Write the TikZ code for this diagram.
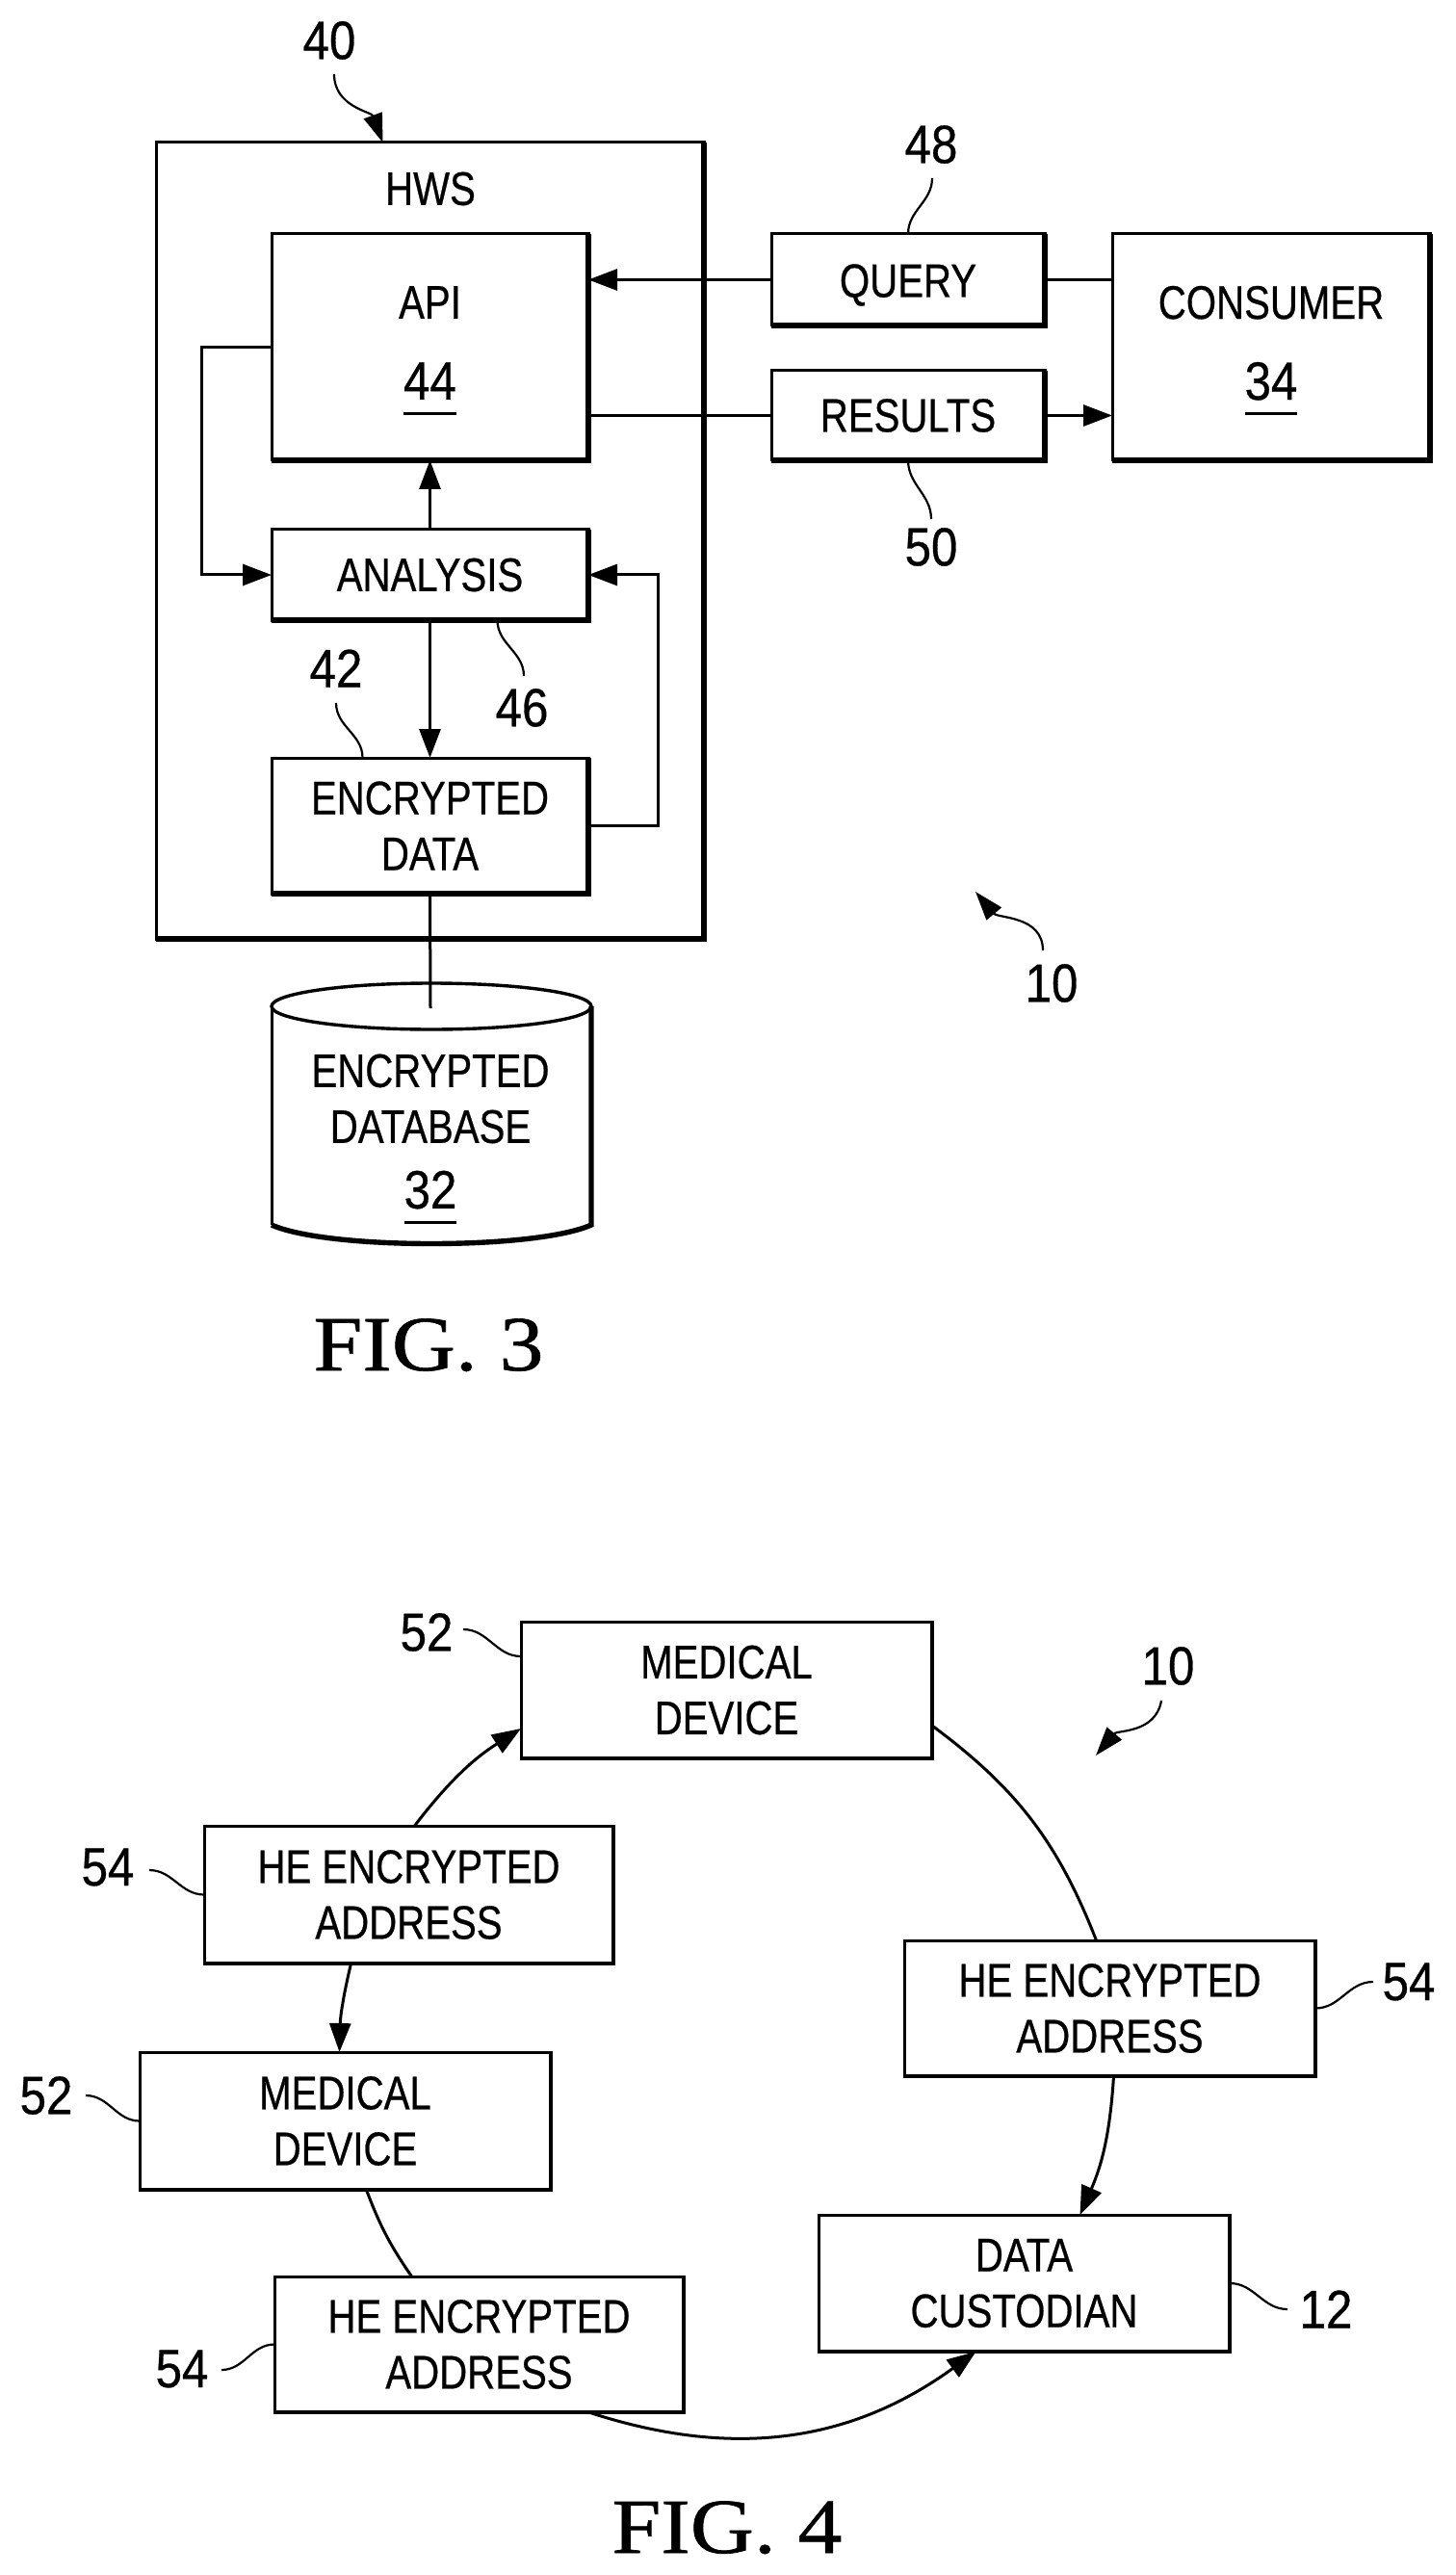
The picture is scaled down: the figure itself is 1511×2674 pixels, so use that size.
\documentclass[tikz,border=0pt]{standalone}
\usepackage{fontspec}
\usetikzlibrary{arrows.meta}
\setmainfont[FakeStretch=0.82,FakeBold=0.5]{Liberation Sans}
\newfontfamily\numf[FakeStretch=0.88,FakeBold=0.5]{Liberation Sans}
\newfontfamily\figf[FakeStretch=1.13,FakeBold=0.8]{Liberation Serif}
\newcommand\txtsize{\fontsize{24.5}{29}\selectfont}
\newcommand\numsize{\numf\fontsize{28}{32}\selectfont}
% underlined reference numeral: rule 8pt under the baseline, #2 = reserved depth
\newcommand\ulnum[2]{{\numsize\setbox0\hbox{#1}\rlap{\smash{\rule[-8pt]{\wd0}{1.5pt}}}\box0\rule[-#2]{0pt}{#2}}}
\newcommand\bx[6]{\node[pbox,minimum width={(#4-#2)*0.5pt},minimum height={(#5-#3)*0.5pt}] (#1) at ({(#2+#4)/2},{(#3+#5)/2}) {#6};}
\tikzset{
  pbox/.style={draw=black,line width=1.5pt,fill=none,inner sep=0pt,outer sep=0pt,align=center,font=\txtsize},
  txt/.style={inner sep=0pt,outer sep=0pt,align=center,font=\txtsize},
  num/.style={inner sep=0pt,outer sep=0pt,font=\numsize},
  figl/.style={inner sep=0pt,outer sep=0pt,anchor=base,font=\figf\fontsize{40.5}{44}\selectfont},
  heavy/.style={line width=2.7pt,line cap=square},
  conn/.style={line width=1.5pt},
  arr/.style={line width=1.5pt,-{Triangle[length=15pt,width=11pt]}},
  lead/.style={line width=1.1pt},
  leadarr/.style={line width=1.1pt,-{Triangle[length=15pt,width=10pt]}}
}
\begin{document}
\begin{tikzpicture}[x=0.5pt,y=-0.5pt]
\useasboundingbox (0,0) rectangle (1511,2674);
% FIG. 3 boxes
\bx{outer}{162}{148}{731}{975}{}
\bx{api}{282}{243}{611}{478}{API\\[13pt]\ulnum{44}{4.5pt}}
\bx{query}{801}{243}{1085}{338}{\raisebox{0pt}[18pt][0pt]{QUERY}}
\bx{results}{801}{385}{1085}{478}{RESULTS}
\bx{consumer}{1155}{243}{1485}{478}{CONSUMER\\[13pt]\ulnum{34}{4.5pt}}
\bx{analysis}{282}{550}{611}{644}{ANALYSIS}
\bx{enc}{282}{787}{611}{928}{ENCRYPTED\\DATA}
\foreach \n in {outer,api,query,results,consumer,analysis,enc}
  \draw[heavy] (\n.north east)--(\n.south east)--(\n.south west);
\node[txt] (hws) at (447,196) {HWS};
% cylinder
\draw[line width=1.7pt] (448,1045) ellipse [x radius=83pt,y radius=12pt];
\draw[line width=1.5pt] (282,1045)--(282,1272);
\draw[heavy] (614,1045)--(614,1272) .. controls (556,1298) and (340,1298) .. (282,1272);
\node[txt] (db) at (447,1175) {ENCRYPTED\\[0pt]DATABASE\\[5pt]\ulnum{32}{0pt}};
\coordinate (dbtop) at (447,1047);
% FIG. 3 connectors
\coordinate (loopl) at (209,0);
\coordinate (loopr) at (683,0);
\draw[arr] (query.west) -- (query.west -| api.east);
\draw[conn] (query.east) -- (query.east -| consumer.west);
\draw[conn] (results.west) -- (results.west -| api.east);
\draw[arr] (results.east) -- (results.east -| consumer.west);
\draw[arr] (analysis.north) -- (api.south);
\draw[arr] (analysis.south) -- (enc.north);
\draw[arr] (api.west) -- (api.west -| loopl) -- (analysis.west -| loopl) -- (analysis.west);
\draw[arr] (enc.east) -- (enc.east -| loopr) -- (analysis.east -| loopr) -- (analysis.east);
\draw[conn] (enc.south) -- (dbtop);
% FIG. 3 labels
\node[num] (n40) at (342,42) {40};
\node[num] (n48) at (967,150) {48};
\node[num] (n50) at (967,568) {50};
\node[num] (n46) at (542,735) {46};
\node[num] (n42) at (349,694) {42};
\node[num] (n10a) at (1092,1021) {10};
\coordinate (s40) at (347,77);
\coordinate (s48) at (968,185);
\coordinate (s50) at (967,539);
\coordinate (s46) at (544,702);
\coordinate (s42) at (349,730);
\coordinate (s10a) at (1083,987);
\coordinate (t10a) at (1013,926);
\draw[leadarr] (s40) to[out=-90,in=110] ([xshift=-24.5pt]outer.north);
\draw[lead] (s48) to[out=-90,in=90] (query.north);
\draw[lead] (s50) to[out=90,in=-90] (results.south);
\draw[lead] (s46) to[out=90,in=-90] ([xshift=35pt]analysis.south);
\draw[lead] (s42) to[out=-90,in=90] ([xshift=-35pt]enc.north);
\draw[leadarr] (s10a) to[out=90,in=-50] (t10a);
\node[figl] (fig3) at (445,1423) {FIG. 3};
% FIG. 4 boxes
\bx{med}{541}{1684}{968}{1826}{MEDICAL\\DEVICE}
\bx{heone}{212}{1896}{637}{2039}{HE ENCRYPTED\\ADDRESS}
\bx{medtwo}{145}{2131}{572}{2274}{MEDICAL\\DEVICE}
\bx{hethree}{285}{2364}{710}{2505}{HE ENCRYPTED\\ADDRESS}
\bx{heright}{939}{2015}{1366}{2156}{HE ENCRYPTED\\ADDRESS}
\bx{data}{850}{2300}{1277}{2442}{DATA\\CUSTODIAN}
\foreach \n in {med,heone,medtwo,hethree,heright,data}
  \draw[line width=2.2pt,line cap=square] (\n.north east)--(\n.south east)--(\n.south west);
% FIG. 4 connectors
\draw[arr] ([xshift=3pt]heone.north) to[bend left=10] ([yshift=-20pt]med.west);
\draw[arr] ([xshift=-30pt]heone.south) to[bend right=6] ([xshift=-3pt]medtwo.north);
\draw[conn] ([xshift=11pt]medtwo.south) to[bend right=7] ([xshift=-35pt]hethree.north);
\draw[arr] ([xshift=57pt]hethree.south) to[bend right=27] ([xshift=-25pt]data.south);
\draw[conn] ([yshift=-18.5pt]med.east) to[bend left=16] ([xshift=-7pt]heright.north);
\draw[arr] ([xshift=2pt]heright.south) to[bend left=10] ([xshift=29pt]data.north);
% FIG. 4 labels
\node[num] (n52a) at (443,1695) {52};
\node[num] (n54a) at (112,1939) {54};
\node[num] (n52b) at (48,2176) {52};
\node[num] (n54b) at (189,2460) {54};
\node[num] (n54c) at (1463,2058) {54};
\node[num] (n12) at (1377,2398) {12};
\node[num] (n10b) at (1213,1730) {10};
\coordinate (s52a) at (481,1692);
\coordinate (s54a) at (155,1942);
\coordinate (s52b) at (89,2176);
\coordinate (s54b) at (230,2461);
\coordinate (s54c) at (1426,2058);
\coordinate (s12) at (1337,2398);
\coordinate (s10b) at (1206,1766);
\coordinate (t10b) at (1138,1823);
\draw[lead] (s52a) to[out=0,in=180] ([yshift=17.5pt]med.west);
\draw[lead] (s54a) to[out=0,in=180] (heone.west);
\draw[lead] (s52b) to[out=0,in=180] (medtwo.west);
\draw[lead] (s54b) to[out=0,in=180] (hethree.west);
\draw[lead] (s54c) to[out=180,in=0] (heright.east);
\draw[lead] (s12) to[out=180,in=0] (data.east);
\draw[leadarr] (s10b) to[out=-100,in=50] (t10b);
\node[figl] (fig4) at (755,2651) {FIG. 4};
\end{tikzpicture}
\end{document}
